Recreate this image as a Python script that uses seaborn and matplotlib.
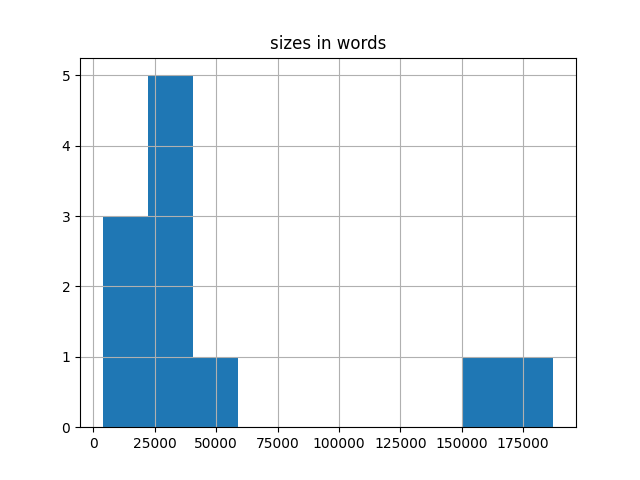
import matplotlib
matplotlib.use('Agg')
import matplotlib.pyplot as plt
import seaborn as sns
import pandas as pd

# book sizes in words
titles = ['a', 'b', 'c', 'd', 'e', 'f', 'g', 'h', 'i', 'j', 'k']
sizes = [3700, 12000, 18500, 24000, 28000, 31000, 35000, 39000, 50000, 160000, 187300]

df = pd.DataFrame({'title': titles, 'sizes in words': sizes})

fig, ax = plt.subplots(figsize=(6.4, 4.8), dpi=100)
sns.histplot(data=df, x='sizes in words', bins=10, ax=ax,
             color='#1f77b4', alpha=1, linewidth=0)

ax.set_title('sizes in words')
ax.set_xlabel('')
ax.set_ylabel('')
ax.grid(True)

fig.savefig('out.png', dpi=100)
plt.close(fig)
